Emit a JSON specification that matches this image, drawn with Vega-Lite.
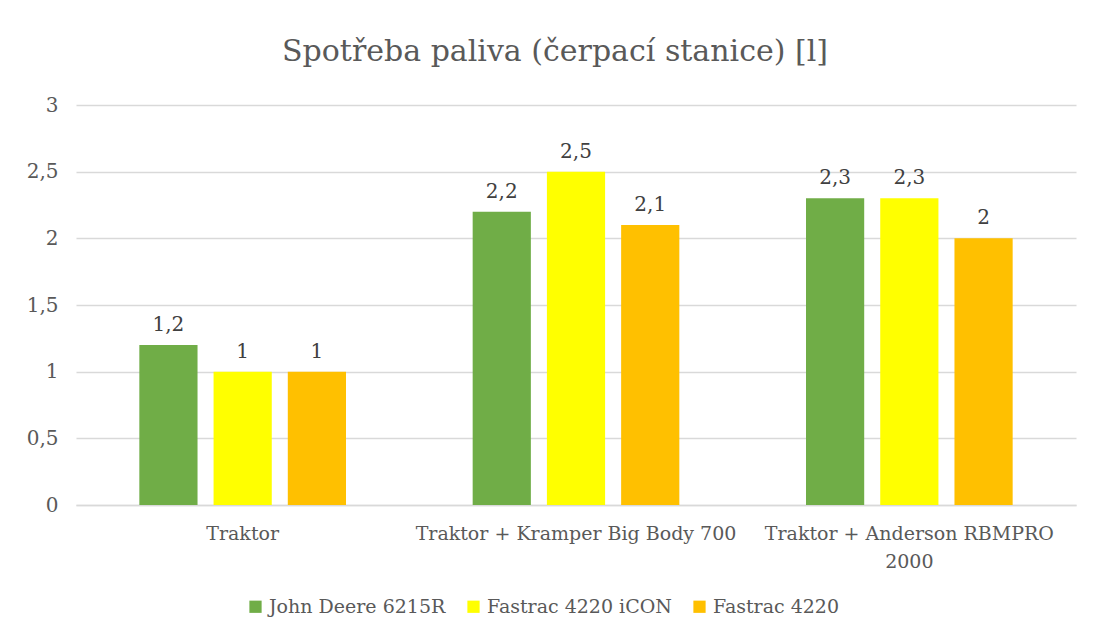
{
  "$schema": "https://vega.github.io/schema/vega-lite/v6.json",
  "autosize": {"type": "none"},
  "width": 1000,
  "height": 400,
  "padding": {"left": 76, "top": 105, "right": 17, "bottom": 137},
  "background": "white",
  "title": {
    "text": "Spotřeba paliva (čerpací stanice) [l]",
    "font": "DejaVu Serif",
    "fontSize": 30,
    "fontWeight": "normal",
    "color": "#595959",
    "anchor": "middle",
    "dx": -21,
    "offset": 28
  },
  "config": {
    "locale": {"number": {"decimal": ",", "thousands": " ", "grouping": [3], "currency": ["", " Kč"]}},
    "view": {"stroke": null},
    "font": "DejaVu Serif"
  },
  "data": {
    "values": [
      {"kategorie": "Traktor", "stroj": "John Deere 6215R", "spotreba": 1.2},
      {"kategorie": "Traktor", "stroj": "Fastrac 4220 iCON", "spotreba": 1.0},
      {"kategorie": "Traktor", "stroj": "Fastrac 4220", "spotreba": 1.0},
      {"kategorie": "Traktor + Kramper Big Body 700", "stroj": "John Deere 6215R", "spotreba": 2.2},
      {"kategorie": "Traktor + Kramper Big Body 700", "stroj": "Fastrac 4220 iCON", "spotreba": 2.5},
      {"kategorie": "Traktor + Kramper Big Body 700", "stroj": "Fastrac 4220", "spotreba": 2.1},
      {"kategorie": "Traktor + Anderson RBMPRO 2000", "stroj": "John Deere 6215R", "spotreba": 2.3},
      {"kategorie": "Traktor + Anderson RBMPRO 2000", "stroj": "Fastrac 4220 iCON", "spotreba": 2.3},
      {"kategorie": "Traktor + Anderson RBMPRO 2000", "stroj": "Fastrac 4220", "spotreba": 2.0}
    ]
  },
  "encoding": {
    "x": {
      "field": "kategorie",
      "type": "nominal",
      "sort": ["Traktor", "Traktor + Kramper Big Body 700", "Traktor + Anderson RBMPRO 2000"],
      "scale": {"paddingInner": 0.38, "paddingOuter": 0.19},
      "axis": {
        "title": null,
        "labelAngle": 0,
        "labelFont": "DejaVu Serif",
        "labelFontSize": 19,
        "labelColor": "#595959",
        "labelPadding": 19,
        "labelLimit": 400,
        "labelLineHeight": 28,
        "labelExpr": "datum.value == 'Traktor + Anderson RBMPRO 2000' ? ['Traktor + Anderson RBMPRO', '2000'] : datum.label",
        "ticks": false,
        "domainColor": "#d9d9d9",
        "domainWidth": 1.5,
        "grid": false
      }
    },
    "xOffset": {
      "field": "stroj",
      "type": "nominal",
      "sort": ["John Deere 6215R", "Fastrac 4220 iCON", "Fastrac 4220"],
      "scale": {"paddingInner": 0.216, "paddingOuter": 0}
    },
    "y": {
      "field": "spotreba",
      "type": "quantitative",
      "scale": {"domain": [0, 3]},
      "axis": {
        "title": null,
        "values": [0, 0.5, 1, 1.5, 2, 2.5, 3],
        "format": "~g",
        "labelFont": "DejaVu Serif",
        "labelFontSize": 20,
        "labelColor": "#595959",
        "labelPadding": 18,
        "ticks": false,
        "domain": false,
        "gridColor": "#d9d9d9",
        "gridWidth": 1.5
      }
    }
  },
  "layer": [
    {
      "mark": {"type": "bar"},
      "encoding": {
        "color": {
          "field": "stroj",
          "type": "nominal",
          "sort": ["John Deere 6215R", "Fastrac 4220 iCON", "Fastrac 4220"],
          "scale": {
            "domain": ["John Deere 6215R", "Fastrac 4220 iCON", "Fastrac 4220"],
            "range": ["#70AD47", "#FFFF00", "#FFC000"]
          },
          "legend": {
            "title": null,
            "orient": "none",
            "legendX": 170,
            "legendY": 492,
            "direction": "horizontal",
            "symbolType": "square",
            "symbolSize": 150,
            "symbolStrokeWidth": 0,
            "labelFont": "DejaVu Serif",
            "labelFontSize": 19,
            "labelColor": "#595959",
            "labelOffset": 4,
            "labelLimit": 400,
            "columnPadding": 18
          }
        }
      }
    },
    {
      "mark": {"type": "text", "baseline": "bottom", "dy": -10, "font": "DejaVu Serif", "fontSize": 20, "color": "#404040"},
      "encoding": {
        "text": {"field": "spotreba", "type": "quantitative", "format": "~g"}
      }
    }
  ]
}
